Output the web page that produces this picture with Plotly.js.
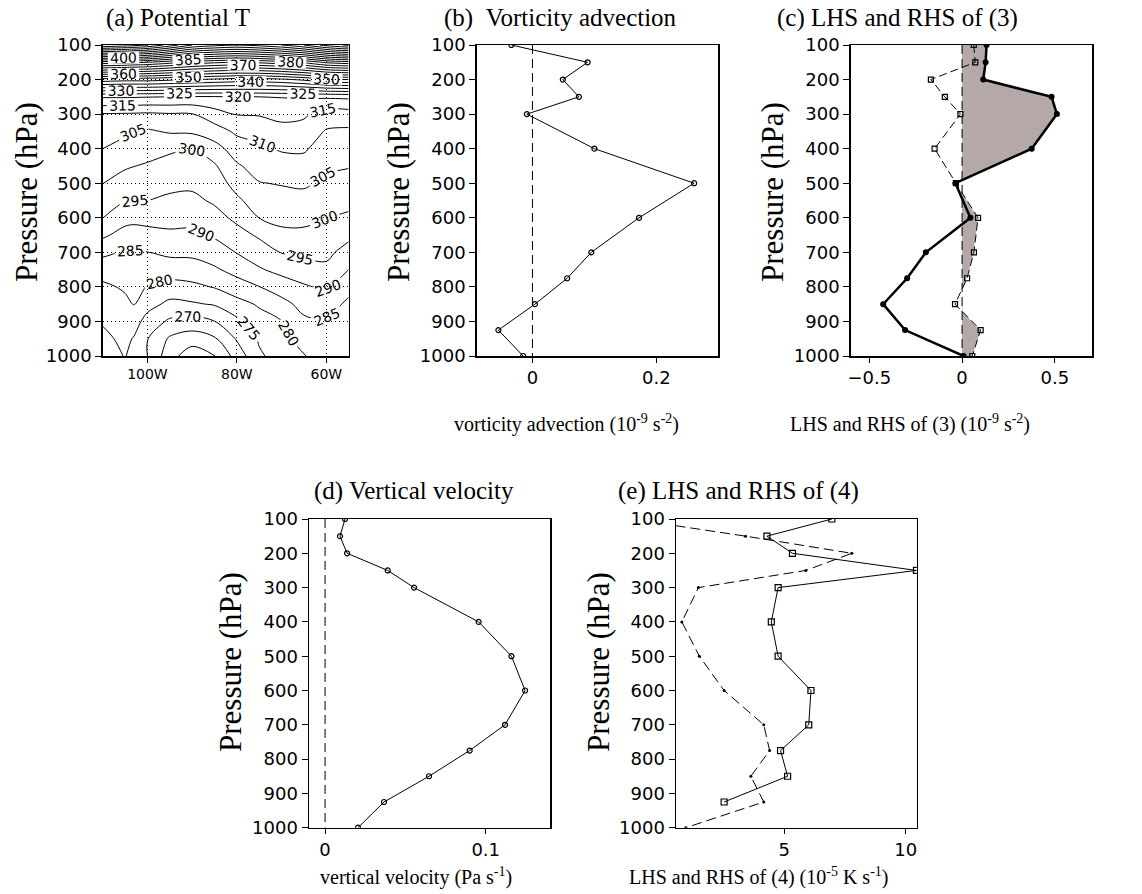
<!DOCTYPE html>
<html><head><meta charset="utf-8">
<script src="https://cdn.plot.ly/plotly-3.0.1.min.js"></script>
<style>body{margin:0;background:#fff}#chart{width:1142px;height:894px}</style>
</head><body><div id="chart"></div>
<script>
// ---------- DATA ----------
// Panel (a): potential temperature (K), rows = pressure levels, cols = longitudes
const lonA = [-110, -105, -103, -100, -95, -90, -85, -80, -75, -70, -65, -60, -55];
const presA = [100, 150, 200, 250, 300, 350, 400, 450, 500, 550, 600, 650, 700, 750, 800, 850, 900, 950, 1000];
const thetaA = [
  [440, 438, 437, 435, 428, 420, 417, 415, 417, 420, 425, 432, 436],
  [388, 387, 386, 385, 382, 378, 376, 375, 376, 378, 381, 386, 388],
  [348, 347, 347, 347, 346, 345, 344, 343, 343, 344, 346, 349, 350],
  [320.5, 320.5, 320.4, 320.2, 320.0, 319.6, 319.6, 320.0, 320.0, 320.2, 320.5, 320.7, 321.0],
  [309.7, 309.5, 309.4, 309.2, 309.6, 309.8, 312.9, 315.3, 315.4, 316.5, 315.8, 312.6, 312.8],
  [307.3, 305.9, 305.0, 304.4, 305.5, 305.8, 307.7, 310.9, 311.8, 313.3, 313.0, 309.6, 309.2],
  [305.0, 303.1, 302.5, 301.9, 300.8, 299.8, 303.1, 307.4, 309.0, 310.5, 310.6, 307.7, 307.3],
  [302.5, 300.6, 300.1, 299.5, 298.3, 297.9, 299.4, 304.4, 306.9, 307.9, 308.2, 305.9, 305.3],
  [300.1, 297.9, 297.6, 297.2, 296.3, 296.0, 297.5, 301.8, 304.8, 305.3, 305.7, 304.0, 303.3],
  [297.6, 295.2, 295.0, 295.0, 294.1, 293.9, 295.7, 299.1, 302.4, 303.2, 303.5, 302.0, 301.4],
  [295.1, 291.8, 291.4, 291.7, 291.7, 291.5, 293.3, 296.1, 300.1, 301.3, 301.3, 300.1, 299.2],
  [290.9, 288.1, 287.9, 288.3, 289.1, 289.0, 290.6, 293.2, 295.7, 298.8, 298.9, 298.2, 296.2],
  [286.2, 284.5, 284.7, 284.9, 286.0, 286.1, 287.6, 290.2, 292.6, 295.2, 296.1, 296.2, 293.1],
  [282.0, 282.5, 283.2, 282.3, 282.5, 282.8, 284.3, 286.7, 289.5, 291.5, 292.9, 293.9, 290.0],
  [279.1, 280.6, 281.7, 279.7, 278.3, 278.9, 280.3, 282.8, 284.9, 287.4, 289.4, 290.9, 286.6],
  [277.3, 279.0, 280.2, 277.0, 273.7, 274.4, 275.4, 278.2, 280.6, 283.4, 286.6, 287.4, 283.9],
  [275.5, 277.7, 277.3, 272.9, 269.2, 268.2, 269.9, 273.9, 278.0, 279.9, 284.1, 284.6, 283.6],
  [273.7, 276.3, 274.6, 270.2, 264.3, 262.4, 264.4, 270.5, 275.6, 278.5, 282.0, 283.3, 283.3],
  [272.0, 275.3, 273.0, 270.0, 262.0, 257.0, 259.8, 267.0, 274.3, 277.0, 279.8, 282.0, 283.0]
];
const lonTickVals = [-100, -80, -60];
const lonTickText = ['100W', '80W', '60W'];

// Profiles: pressure levels (hPa)
const levels = [100, 150, 200, 250, 300, 400, 500, 600, 700, 775, 850, 925, 1000];
const pressTicks = [100, 200, 300, 400, 500, 600, 700, 800, 900, 1000];

// (b) vorticity advection (1e-9 s^-2)
const vortAdv = [-0.034, 0.089, 0.049, 0.075, -0.009, 0.100, 0.261, 0.172, 0.095, 0.056, 0.004, -0.055, -0.015];
// (c) LHS (solid, filled circles) and RHS (dashed, open squares) of (3)
const lhs3 = [0.132, 0.127, 0.114, 0.482, 0.511, 0.375, -0.036, 0.045, -0.195, -0.296, -0.425, -0.307, 0.008];
const rhs3 = [0.063, 0.071, -0.168, -0.093, -0.009, -0.148, -0.033, 0.086, 0.064, 0.027, -0.038, 0.100, 0.055];
// (d) vertical velocity (Pa s^-1)
const omega = [0.0124, 0.0093, 0.0137, 0.039, 0.0554, 0.0956, 0.116, 0.1245, 0.112, 0.090, 0.0647, 0.0367, 0.0205];
// (e) LHS (solid, open squares) and RHS (dashed, dots) of (4) (1e-5 K s^-1)
const lhs4 = [6.96, 4.29, 5.34, 10.44, 4.75, 4.47, 4.75, 6.10, 6.01, 4.85, 5.14, 2.53, null];
const rhs4 = [-1.3, 3.41, 7.78, 5.89, 1.47, 0.79, 1.51, 2.53, 4.16, 4.40, 3.63, 4.16, 0.95];

// ---------- LAYOUT HELPERS ----------
const W = 1142, H = 894;
const dx = (a, b) => [a / W, b / W];
const dy = (top, bottom) => [1 - bottom / H, 1 - top / H];
const tickFont = {family: 'DejaVu Sans, Liberation Sans, sans-serif', size: 18, color: '#000'};
const serif = 'Liberation Serif, Times New Roman, serif';

function yAxis(domTop, domBot, anchor) {
  return {domain: dy(domTop, domBot), range: [1000, 100], anchor: anchor,
    tickmode: 'array', tickvals: pressTicks, ticks: 'outside', ticklen: 6, tickcolor: '#000',
    showline: true, mirror: true, linecolor: '#000', linewidth: 1.5, showgrid: false, zeroline: false,
    tickfont: tickFont};
}
function xAxis(l, r, range, tv, tt, anchor) {
  return {domain: dx(l, r), range: range, anchor: anchor, tickmode: 'array', tickvals: tv,
    ticktext: tt, ticks: 'outside', ticklen: 5, tickcolor: '#000', showline: true, mirror: true,
    linecolor: '#000', linewidth: 1.5, showgrid: false, zeroline: false, tickfont: tickFont};
}

// envelope for shading in (c): max(0, lhs, rhs)
function envelope(p, a, b) {
  const xs = [0], ys = [p[0]];
  for (let i = 0; i < p.length - 1; i++) {
    const n = 40;
    for (let k = 0; k < n; k++) {
      const t = k / n;
      const va = a[i] + (a[i + 1] - a[i]) * t, vb = b[i] + (b[i + 1] - b[i]) * t;
      xs.push(Math.max(0, va, vb)); ys.push(p[i] + (p[i + 1] - p[i]) * t);
    }
  }
  const last = p.length - 1;
  xs.push(Math.max(0, a[last], b[last])); ys.push(p[last]);
  xs.push(0); ys.push(p[last]);
  return {xs, ys};
}
const env = envelope(levels, lhs3, rhs3);

const zeroLine = (xa, ya) => ({x: [0, 0], y: [100, 1000], xaxis: xa, yaxis: ya, mode: 'lines',
  line: {color: '#000', width: 1, dash: '9px,5px'}, hoverinfo: 'skip', showlegend: false});

const traces = [
  {type: 'contour', x: lonA, y: presA, z: thetaA, xaxis: 'x', yaxis: 'y',
    contours: {start: 255, end: 450, size: 5, coloring: 'lines', showlabels: true,
      labelfont: {family: 'DejaVu Sans, sans-serif', size: 14, color: '#000'}},
    colorscale: [[0, '#000'], [1, '#000']], showscale: false, line: {width: 1, smoothing: 1},
    hoverinfo: 'skip'},
  zeroLine('x2', 'y2'),
  {x: vortAdv, y: levels, xaxis: 'x2', yaxis: 'y2', mode: 'lines+markers',
    line: {color: '#000', width: 1}, marker: {symbol: 'circle-open', size: 5, color: '#000', line: {width: 1.2}},
    showlegend: false},
  {x: env.xs, y: env.ys, xaxis: 'x3', yaxis: 'y3', mode: 'lines', fill: 'toself',
    fillcolor: '#b4a8a8', line: {width: 0, color: 'rgba(0,0,0,0)'}, hoverinfo: 'skip', showlegend: false},
  zeroLine('x3', 'y3'),
  {x: rhs3, y: levels, xaxis: 'x3', yaxis: 'y3', mode: 'lines+markers',
    line: {color: '#000', width: 1, dash: '8px,4px'},
    marker: {symbol: 'square-open', size: 5, color: '#000', line: {width: 1.2}}, showlegend: false},
  {x: lhs3, y: levels, xaxis: 'x3', yaxis: 'y3', mode: 'lines+markers',
    line: {color: '#000', width: 2.5}, marker: {symbol: 'circle', size: 6, color: '#000'}, showlegend: false},
  zeroLine('x4', 'y4'),
  {x: omega, y: levels, xaxis: 'x4', yaxis: 'y4', mode: 'lines+markers',
    line: {color: '#000', width: 1}, marker: {symbol: 'circle-open', size: 5, color: '#000', line: {width: 1.2}},
    showlegend: false},
  {x: rhs4, y: levels, xaxis: 'x5', yaxis: 'y5', mode: 'lines+markers',
    line: {color: '#000', width: 1, dash: '10px,5px'}, marker: {symbol: 'circle', size: 3, color: '#000'},
    showlegend: false},
  {x: lhs4, y: levels, xaxis: 'x5', yaxis: 'y5', mode: 'lines+markers', connectgaps: false,
    line: {color: '#000', width: 1}, marker: {symbol: 'square-open', size: 6, color: '#000', line: {width: 1.2}},
    showlegend: false}
];

const xa = xAxis(102.7, 348.7, [-110, -55], lonTickVals, lonTickText, 'y');
xa.showgrid = true; xa.gridcolor = '#000'; xa.griddash = '1px,3px'; xa.gridwidth = 1;
xa.tickfont = Object.assign({}, tickFont, {size: 14});
const ya = yAxis(45, 356, 'x');
ya.showgrid = true; ya.gridcolor = '#000'; ya.griddash = '1px,3px'; ya.gridwidth = 1;

function ann(text, x, y, size, opts) {
  return Object.assign({text: text, x: x / W, y: 1 - y / H, xref: 'paper', yref: 'paper',
    showarrow: false, xanchor: 'left', yanchor: 'middle',
    font: {family: serif, size: size, color: '#000'}}, opts || {});
}
const sp = '\u00a0';
const annotations = [
  ann('(a) Potential T', 104, 18, 25),
  ann('(b)' + sp + sp + 'Vorticity advection', 442, 18, 25),
  ann('(c) LHS and RHS of (3)', 775, 18, 25),
  ann('(d) Vertical velocity', 312, 491, 25),
  ann('(e) LHS and RHS of (4)', 616, 491, 25),
  ann('vorticity advection (10<sup>-9</sup> s<sup>-2</sup>)', 452, 423, 20),
  ann('LHS and RHS of (3) (10<sup>-9</sup> s<sup>-2</sup>)', 788, 423, 20),
  ann('vertical velocity (Pa s<sup>-1</sup>)', 318, 876, 20),
  ann('LHS and RHS of (4) (10<sup>-5</sup> K s<sup>-1</sup>)', 627, 876, 20),
  ann('Pressure (hPa)', 26, 192, 31, {textangle: -90, xanchor: 'center'}),
  ann('Pressure (hPa)', 398, 192, 31, {textangle: -90, xanchor: 'center'}),
  ann('Pressure (hPa)', 772, 192, 31, {textangle: -90, xanchor: 'center'}),
  ann('Pressure (hPa)', 230, 662, 31, {textangle: -90, xanchor: 'center'}),
  ann('Pressure (hPa)', 598, 662, 31, {textangle: -90, xanchor: 'center'})
];

const layout = {
  width: W, height: H, margin: {l: 0, r: 0, t: 0, b: 0}, paper_bgcolor: '#fff', plot_bgcolor: '#fff',
  showlegend: false,
  xaxis: xa, yaxis: ya,
  xaxis2: xAxis(476.7, 718.3, [-0.09, 0.3], [0, 0.2], ['0', '0.2'], 'y2'),
  yaxis2: yAxis(45, 356, 'x2'),
  xaxis3: xAxis(850.7, 1092, [-0.6, 0.7], [-0.5, 0, 0.5], ['\u22120.5', '0', '0.5'], 'y3'),
  yaxis3: yAxis(45, 356, 'x3'),
  xaxis4: xAxis(309, 550, [-0.01, 0.14], [0, 0.1], ['0', '0.1'], 'y4'),
  yaxis4: yAxis(519, 827.7, 'x4'),
  xaxis5: xAxis(676, 916.7, [0.55, 10.45], [5, 10], ['5', '10'], 'y5'),
  yaxis5: yAxis(519, 827.7, 'x5'),
  annotations: annotations
};

Plotly.newPlot('chart', traces, layout, {displayModeBar: false, staticPlot: true});
</script></body></html>
